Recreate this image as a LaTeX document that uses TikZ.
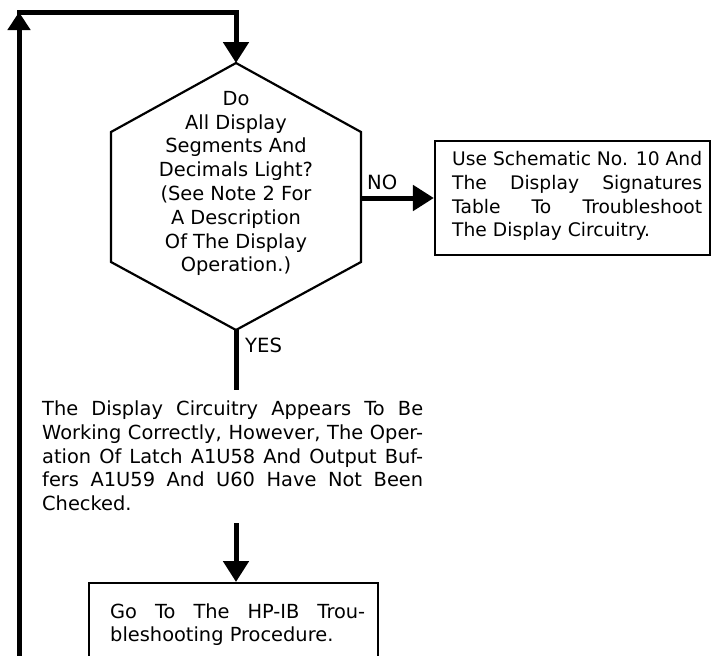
\documentclass[tikz,border=0pt]{standalone}
\usepackage{fontspec}
\setmainfont{DejaVu Sans}
\usetikzlibrary{arrows.meta}
\begin{document}
\begin{tikzpicture}[x=1pt,y=-1pt,
  flow/.style={line width=5pt, -{Triangle[width=25pt,length=21pt]}},
  plain/.style={line width=5pt},
  outline/.style={line width=2.2pt, line join=miter},
  txt/.style={inner sep=0pt, font=\fontsize{19.4}{23.8}\selectfont, align=left},
  lbl/.style={inner sep=0pt, font=\fontsize{19.6}{23}\selectfont, anchor=base west},
  box/.style={draw, line width=2.2pt, inner sep=0pt}]
\useasboundingbox (0,0) rectangle (713,656);
\clip (0,0) rectangle (713,656);
% hexagon decision
\coordinate (ht) at (236,63);
\coordinate (hur) at (361,132);
\coordinate (hlr) at (361,262);
\coordinate (hb) at (236,330);
\coordinate (hll) at (111,262);
\coordinate (hul) at (111,132);
\coordinate (hr) at (361,198);
\draw[outline] (ht) -- (hur) -- (hlr) -- (hb) -- (hll) -- (hul) -- cycle;
\node[txt, align=center, anchor=north] (q) at (236,91)
  {Do\\All Display\\Segments And\\Decimals Light?\\(See Note 2 For\\A Description\\Of The Display\\Operation.)};
% right box
\node[box, minimum width=275pt, minimum height=114pt] (fix) at (572.5,198) {};
\node[txt, anchor=north west, font=\fontsize{18.7}{23.8}\selectfont] (fixtxt) at (452,151)
  {\makebox[250pt][s]{Use Schematic No. 10 And}\\
   \makebox[250pt][s]{The Display Signatures}\\
   \makebox[250pt][s]{Table To Troubleshoot}\\
   The Display Circuitry.};
\draw[flow] (hr) -- (fix.west);
\node[lbl] (no) at (367,189) {NO};
% yes branch
\coordinate (yesend) at (236,390);
\draw[plain] (hb) -- (yesend);
\node[lbl] (yes) at (245,352) {YES};
\node[txt, anchor=north west] (ok) at (42,400.5)
  {\makebox[381pt][s]{The Display Circuitry Appears To Be}\\
   \makebox[381pt][s]{Working Correctly, However, The Oper-}\\
   \makebox[381pt][s]{ation Of Latch A1U58 And Output Buf-}\\
   \makebox[381pt][s]{fers A1U59 And U60 Have Not Been}\\
   Checked.};
% bottom box
\node[box, minimum width=289pt, minimum height=120pt, anchor=north] (go) at (233.5,582) {};
\node[txt, anchor=north west, font=\fontsize{19.4}{23}\selectfont] (gotxt) at (110,603.5)
  {\makebox[255pt][s]{Go To The HP-IB Trou-}\\
   bleshooting Procedure.};
\coordinate (okout) at (236,523);
\draw[flow] (okout) -- (okout |- go.north);
% loop back
\coordinate (lb) at (19,665);
\coordinate (lt) at (19,12);
\coordinate (rt) at (236,12);
\draw[line width=5pt, -{Triangle[width=22pt,length=18pt]}] (lb) -- (lt);
\draw[flow, line cap=rect, line join=miter] (lt) -- (rt) -- (ht);
\end{tikzpicture}
\end{document}
